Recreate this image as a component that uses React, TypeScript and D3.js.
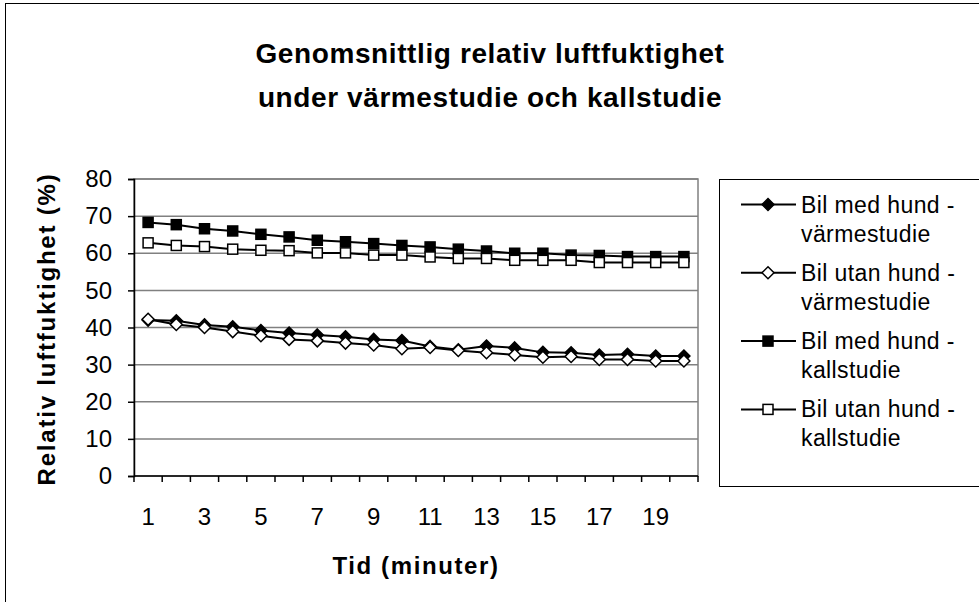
import React, { useRef, useEffect } from "react";
import * as d3 from "d3";

const minutes = d3.range(1, 21).map(String);
const yTicks = [0, 10, 20, 30, 40, 50, 60, 70, 80];
const xLabels = ["1", "3", "5", "7", "9", "11", "13", "15", "17", "19"];

const medVarme = [42.0, 41.8, 40.7, 40.2, 39.2, 38.5, 38.0, 37.5, 36.8, 36.5, 34.9, 34.0, 35.0, 34.5, 33.3, 33.2, 32.6, 32.8, 32.3, 32.3];
const utanVarme = [42.2, 40.8, 40.0, 38.9, 37.8, 36.8, 36.4, 35.8, 35.3, 34.3, 34.6, 33.8, 33.2, 32.6, 32.0, 32.2, 31.4, 31.4, 31.0, 31.0];
const medKall = [68.3, 67.7, 66.6, 66.0, 65.1, 64.4, 63.5, 63.1, 62.6, 62.1, 61.7, 61.1, 60.6, 60.0, 60.0, 59.5, 59.4, 59.1, 59.1, 59.1];
const utanKall = [62.8, 62.1, 61.8, 61.1, 60.8, 60.7, 60.1, 60.1, 59.5, 59.5, 59.0, 58.6, 58.6, 58.1, 58.1, 58.1, 57.5, 57.5, 57.5, 57.5];

const series = [
  { name: ["Bil med hund -", "värmestudie"], values: medVarme, shape: "diamond", fill: "#000" },
  { name: ["Bil utan hund -", "värmestudie"], values: utanVarme, shape: "diamond", fill: "#fff" },
  { name: ["Bil med hund -", "kallstudie"], values: medKall, shape: "square", fill: "#000" },
  { name: ["Bil utan hund -", "kallstudie"], values: utanKall, shape: "square", fill: "#fff" },
];

const W = 979;
const H = 602;
const font = "Arial, 'Liberation Sans', sans-serif";

function marker(g: any, shape: string, fill: string, x: number, y: number) {
  if (shape === "square") {
    g.append("rect")
      .attr("x", x - 5).attr("y", y - 5)
      .attr("width", 10).attr("height", 10)
      .attr("fill", fill).attr("stroke", "#000").attr("stroke-width", 1.5);
  } else {
    const s = 6;
    g.append("path")
      .attr("d", `M${x},${y - s}L${x + s},${y}L${x},${y + s}L${x - s},${y}Z`)
      .attr("fill", fill).attr("stroke", "#000").attr("stroke-width", 1.5);
  }
}

export default function App() {
  const ref = useRef<SVGSVGElement>(null);

  useEffect(() => {
    if (!ref.current) return;
    const svg = d3.select(ref.current);
    svg.selectAll("*").remove();

    const x = d3.scaleBand().domain(minutes).range([134, 698]);
    const y = d3.scaleLinear().domain([0, 80]).range([476, 179]);

    // outer frame, runs off the right and bottom edges
    svg.append("rect")
      .attr("x", 5.5).attr("y", 3.5).attr("width", W + 10).attr("height", H + 10)
      .attr("fill", "#fff").attr("stroke", "#000").attr("stroke-width", 1);

    // title
    ["Genomsnittlig relativ luftfuktighet", "under värmestudie och kallstudie"].forEach((t, i) => {
      svg.append("text")
        .attr("x", 490).attr("y", 63 + i * 44)
        .attr("text-anchor", "middle").attr("font-family", font)
        .attr("font-weight", "bold").attr("font-size", 28)
        .attr("letter-spacing", 0.6)
        .text(t);
    });

    // plot area border and gridlines
    svg.append("rect")
      .attr("x", 134).attr("y", y(80)).attr("width", 564).attr("height", y(0) - y(80))
      .attr("fill", "none").attr("stroke", "#808080").attr("stroke-width", 1.5);
    svg.append("g")
      .selectAll("line")
      .data(yTicks.filter((t) => t > 0))
      .join("line")
      .attr("x1", 134).attr("x2", 698)
      .attr("y1", (d) => y(d)).attr("y2", (d) => y(d))
      .attr("stroke", "#808080").attr("stroke-width", 1.5);

    // y axis
    const yAxis = svg.append("g")
      .attr("transform", "translate(134,0)")
      .call(d3.axisLeft(y).tickValues(yTicks).tickSize(6).tickPadding(16));
    yAxis.select(".domain").attr("stroke", "#000").attr("stroke-width", 1.5);
    yAxis.selectAll(".tick line").attr("stroke", "#000").attr("stroke-width", 1.5);
    yAxis.selectAll(".tick text")
      .attr("font-family", font).attr("font-size", 24).attr("fill", "#000");

    // x axis
    const bounds = minutes.map((m) => x(m) as number).concat([698]);
    const xg = svg.append("g");
    xg.append("line")
      .attr("x1", 134).attr("x2", 698).attr("y1", y(0)).attr("y2", y(0))
      .attr("stroke", "#000").attr("stroke-width", 1.5);
    xg.selectAll("line.tk")
      .data(bounds)
      .join("line")
      .attr("class", "tk")
      .attr("x1", (d) => d).attr("x2", (d) => d)
      .attr("y1", y(0)).attr("y2", y(0) + 6)
      .attr("stroke", "#000").attr("stroke-width", 1.5);
    xg.selectAll("text")
      .data(xLabels)
      .join("text")
      .attr("x", (d) => (x(d) as number) + x.bandwidth() / 2)
      .attr("y", 525)
      .attr("text-anchor", "middle")
      .attr("font-family", font).attr("font-size", 24)
      .text((d) => d);

    // axis titles
    svg.append("text")
      .attr("x", 416).attr("y", 574)
      .attr("text-anchor", "middle").attr("font-family", font)
      .attr("font-weight", "bold").attr("font-size", 24)
      .attr("letter-spacing", 1.6)
      .text("Tid (minuter)");
    svg.append("text")
      .attr("transform", "translate(55,329) rotate(-90)")
      .attr("text-anchor", "middle").attr("font-family", font)
      .attr("font-weight", "bold").attr("font-size", 24)
      .attr("letter-spacing", 1.8)
      .text("Relativ luftfuktighet (%)");

    // series
    const cx = (i: number) => (x(minutes[i]) as number) + x.bandwidth() / 2;
    const line = d3.line<number>().x((_, i) => cx(i)).y((d) => y(d));
    series.forEach((s) => {
      const g = svg.append("g");
      g.append("path")
        .attr("d", line(s.values))
        .attr("fill", "none").attr("stroke", "#000").attr("stroke-width", 2);
      s.values.forEach((v, i) => marker(g, s.shape, s.fill, cx(i), y(v)));
    });

    // legend, box runs off the right edge
    const lg = svg.append("g");
    lg.append("rect")
      .attr("x", 719.5).attr("y", 179.5).attr("width", 300).attr("height", 307)
      .attr("fill", "#fff").attr("stroke", "#000").attr("stroke-width", 1);
    series.forEach((s, i) => {
      const ly = 204.5 + i * 68.3;
      lg.append("line")
        .attr("x1", 741).attr("x2", 796).attr("y1", ly).attr("y2", ly)
        .attr("stroke", "#000").attr("stroke-width", 2);
      marker(lg, s.shape, s.fill, 768, ly);
      s.name.forEach((t, j) => {
        lg.append("text")
          .attr("x", 801).attr("y", ly + 8 + j * 29)
          .attr("font-family", font).attr("font-size", 23)
          .attr("letter-spacing", 0.4)
          .text(t);
      });
    });
  }, []);

  return (
    <svg
      ref={ref}
      width={W}
      height={H}
      style={{ position: "absolute", left: 0, top: 0, background: "#fff" }}
    />
  );
}
